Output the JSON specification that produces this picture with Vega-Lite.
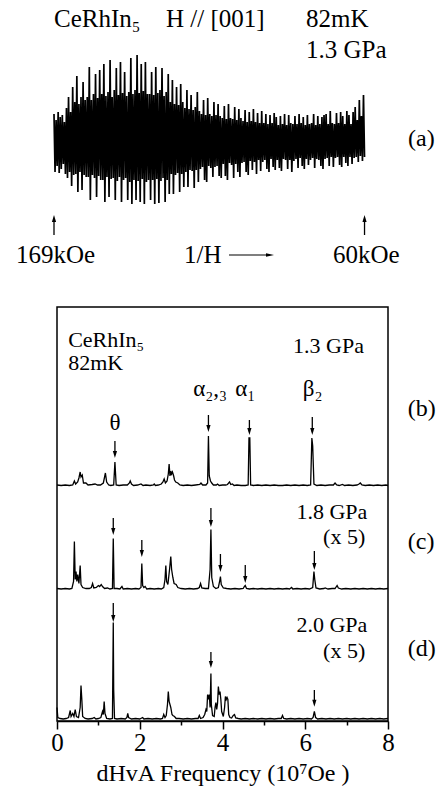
{
 "$schema": "https://vega.github.io/schema/vega-lite/v6.json",
 "padding": {"left": 15, "top": 0, "right": 0, "bottom": 0},
 "spacing": 0,
 "bounds": "flush",
 "background": "white",
 "config": {"view": {"stroke": null}, "font": "Liberation Serif", "text": {"font": "Liberation Serif", "color": "black"}},
 "vconcat": [
  {
   "width": 331, "height": 307,
   "view": {"stroke": null},
   "encoding": {
    "x": {"field": "t", "type": "quantitative", "scale": {"domain": [2.89, 321.6], "nice": false, "zero": false}, "axis": null},
    "y": {"field": "m", "type": "quantitative", "scale": {"domain": [-165, 142], "nice": false, "zero": false}, "axis": null}
   },
   "layer": [
    {"data": {"values": [
{"t":0,"m":28},{"t":1,"m":-30},{"t":2,"m":22},{"t":3,"m":-24},{"t":4,"m":30},{"t":5,"m":-31},{"t":6,"m":25},{"t":7,"m":-27},{"t":8,"m":27},{"t":9,"m":-22},
{"t":10,"m":20},{"t":11,"m":-32},{"t":12,"m":34},{"t":13,"m":-36},{"t":14,"m":45},{"t":15,"m":-30},{"t":16,"m":30},{"t":17,"m":-44},{"t":18,"m":55},{"t":19,"m":-33},
{"t":20,"m":40},{"t":21,"m":-32},{"t":22,"m":66},{"t":23,"m":-50},{"t":24,"m":38},{"t":25,"m":-30},{"t":26,"m":45},{"t":27,"m":-48},{"t":28,"m":60},{"t":29,"m":-33},
{"t":30,"m":42},{"t":31,"m":-35},{"t":32,"m":45},{"t":33,"m":-35},{"t":34,"m":75},{"t":35,"m":-58},{"t":36,"m":42},{"t":37,"m":-33},{"t":38,"m":48},{"t":39,"m":-36},
{"t":40,"m":68},{"t":41,"m":-55},{"t":42,"m":44},{"t":43,"m":-34},{"t":44,"m":72},{"t":45,"m":-38},{"t":46,"m":48},{"t":47,"m":-38},{"t":48,"m":78},{"t":49,"m":-60},
{"t":50,"m":46},{"t":51,"m":-35},{"t":52,"m":50},{"t":53,"m":-55},{"t":54,"m":82},{"t":55,"m":-37},{"t":56,"m":45},{"t":57,"m":-36},{"t":58,"m":52},{"t":59,"m":-58},
{"t":60,"m":74},{"t":61,"m":-39},{"t":62,"m":47},{"t":63,"m":-35},{"t":64,"m":80},{"t":65,"m":-60},{"t":66,"m":49},{"t":67,"m":-38},{"t":68,"m":70},{"t":69,"m":-36},
{"t":70,"m":46},{"t":71,"m":-58},{"t":72,"m":50},{"t":73,"m":-40},{"t":74,"m":84},{"t":75,"m":-62},{"t":76,"m":48},{"t":77,"m":-38},{"t":78,"m":52},{"t":79,"m":-58},
{"t":80,"m":87},{"t":81,"m":-39},{"t":82,"m":49},{"t":83,"m":-60},{"t":84,"m":78},{"t":85,"m":-37},{"t":86,"m":51},{"t":87,"m":-62},{"t":88,"m":80},{"t":89,"m":-40},
{"t":90,"m":48},{"t":91,"m":-38},{"t":92,"m":48},{"t":93,"m":-58},{"t":94,"m":70},{"t":95,"m":-38},{"t":96,"m":47},{"t":97,"m":-62},{"t":98,"m":75},{"t":99,"m":-37},
{"t":100,"m":49},{"t":101,"m":-61},{"t":102,"m":52},{"t":103,"m":-39},{"t":104,"m":74},{"t":105,"m":-36},{"t":106,"m":46},{"t":107,"m":-60},{"t":108,"m":50},{"t":109,"m":-38},
{"t":110,"m":68},{"t":111,"m":-52},{"t":112,"m":40},{"t":113,"m":-32},{"t":114,"m":62},{"t":115,"m":-52},{"t":116,"m":38},{"t":117,"m":-33},{"t":118,"m":55},{"t":119,"m":-31},
{"t":120,"m":37},{"t":121,"m":-50},{"t":122,"m":58},{"t":123,"m":-32},{"t":124,"m":40},{"t":125,"m":-45},{"t":126,"m":34},{"t":127,"m":-30},{"t":128,"m":52},{"t":129,"m":-45},
{"t":130,"m":33},{"t":131,"m":-28},{"t":132,"m":47},{"t":133,"m":-29},{"t":134,"m":32},{"t":135,"m":-46},{"t":136,"m":35},{"t":137,"m":-28},{"t":138,"m":50},{"t":139,"m":-40},
{"t":140,"m":31},{"t":141,"m":-27},{"t":142,"m":28},{"t":143,"m":-25},{"t":144,"m":42},{"t":145,"m":-38},{"t":146,"m":27},{"t":147,"m":-40},{"t":148,"m":44},{"t":149,"m":-24},
{"t":150,"m":28},{"t":151,"m":-26},{"t":152,"m":26},{"t":153,"m":-35},{"t":154,"m":40},{"t":155,"m":-25},{"t":156,"m":27},{"t":157,"m":-24},{"t":158,"m":38},{"t":159,"m":-34},
{"t":160,"m":26},{"t":161,"m":-36},{"t":162,"m":24},{"t":163,"m":-22},{"t":164,"m":36},{"t":165,"m":-34},{"t":166,"m":23},{"t":167,"m":-38},{"t":168,"m":38},{"t":169,"m":-21},
{"t":170,"m":24},{"t":171,"m":-23},{"t":172,"m":23},{"t":173,"m":-36},{"t":174,"m":35},{"t":175,"m":-22},{"t":176,"m":22},{"t":177,"m":-30},{"t":178,"m":33},{"t":179,"m":-35},
{"t":180,"m":24},{"t":181,"m":-21},{"t":182,"m":21},{"t":183,"m":-20},{"t":184,"m":32},{"t":185,"m":-30},{"t":186,"m":20},{"t":187,"m":-33},{"t":188,"m":30},{"t":189,"m":-19},
{"t":190,"m":21},{"t":191,"m":-28},{"t":192,"m":33},{"t":193,"m":-20},{"t":194,"m":20},{"t":195,"m":-32},{"t":196,"m":29},{"t":197,"m":-18},{"t":198,"m":19},{"t":199,"m":-29},
{"t":200,"m":31},{"t":201,"m":-20},{"t":202,"m":19},{"t":203,"m":-18},{"t":204,"m":28},{"t":205,"m":-27},{"t":206,"m":18},{"t":207,"m":-30},{"t":208,"m":27},{"t":209,"m":-17},
{"t":210,"m":19},{"t":211,"m":-25},{"t":212,"m":29},{"t":213,"m":-28},{"t":214,"m":25},{"t":215,"m":-18},{"t":216,"m":17},{"t":217,"m":-26},{"t":218,"m":26},{"t":219,"m":-29},
{"t":220,"m":18},{"t":221,"m":-17},{"t":222,"m":28},{"t":223,"m":-18},{"t":224,"m":17},{"t":225,"m":-27},{"t":226,"m":27},{"t":227,"m":-18},{"t":228,"m":19},{"t":229,"m":-30},
{"t":230,"m":18},{"t":231,"m":-19},{"t":232,"m":26},{"t":233,"m":-17},{"t":234,"m":18},{"t":235,"m":-26},{"t":236,"m":28},{"t":237,"m":-16},{"t":238,"m":19},{"t":239,"m":-24},
{"t":240,"m":25},{"t":241,"m":-27},{"t":242,"m":17},{"t":243,"m":-17},{"t":244,"m":27},{"t":245,"m":-23},{"t":246,"m":18},{"t":247,"m":-18},{"t":248,"m":19},{"t":249,"m":-16},
{"t":250,"m":28},{"t":251,"m":-26},{"t":252,"m":17},{"t":253,"m":-17},{"t":254,"m":26},{"t":255,"m":-18},{"t":256,"m":18},{"t":257,"m":-24},{"t":258,"m":25},{"t":259,"m":-27},
{"t":260,"m":27},{"t":261,"m":-17},{"t":262,"m":28},{"t":263,"m":-16},{"t":264,"m":18},{"t":265,"m":-24},{"t":266,"m":31},{"t":267,"m":-15},{"t":268,"m":19},{"t":269,"m":-25},
{"t":270,"m":18},{"t":271,"m":-16},{"t":272,"m":29},{"t":273,"m":-15},{"t":274,"m":19},{"t":275,"m":-23},{"t":276,"m":30},{"t":277,"m":-25},{"t":278,"m":26},{"t":279,"m":-15},
{"t":280,"m":18},{"t":281,"m":-21},{"t":282,"m":31},{"t":283,"m":-24},{"t":284,"m":27},{"t":285,"m":-15},{"t":286,"m":18},{"t":287,"m":-22},{"t":288,"m":30},{"t":289,"m":-16},
{"t":290,"m":35},{"t":291,"m":-15},{"t":292,"m":22},{"t":293,"m":-20},{"t":294,"m":42},{"t":295,"m":-14},{"t":296,"m":26},{"t":297,"m":-19},{"t":298,"m":47},{"t":299,"m":-15}
    ]},
     "mark": {"type": "line", "color": "black", "strokeWidth": 1.7}},
    {"data": {"values": [
      {"t": 107.8, "m": 115, "label": "H // [001]"},
      {"t": 242.7, "m": 115, "label": "82mK"},
      {"t": 242.7, "m": 84, "label": "1.3 GPa"},
      {"t": -36.6, "m": -121, "label": "169kOe"},
      {"t": 125.2, "m": -121, "label": "1/H"},
      {"t": 268.7, "m": -121, "label": "60kOe"}
     ]},
     "mark": {"type": "text", "align": "left", "baseline": "alphabetic", "fontSize": 25, "font": "Liberation Serif", "color": "black"},
     "encoding": {"text": {"field": "label"}}},
    {"data": {"values": [{"t": 0, "m": 115, "label": "CeRhIn₅"}]},
     "mark": {"type": "text", "align": "left", "baseline": "alphabetic", "fontSize": 25, "font": "Liberation Serif", "color": "black"},
     "encoding": {"text": {"field": "label"}}},
    {"data": {"values": [{"t": 340.9, "m": -4, "label": "(a)"}]},
     "mark": {"type": "text", "align": "left", "baseline": "alphabetic", "fontSize": 24, "font": "Liberation Serif", "color": "black"},
     "encoding": {"text": {"field": "label"}}},
    {"data": {"values": [{"t": 0, "m": -79, "m2": -93}, {"t": 299, "m": -79, "m2": -93}]},
     "mark": {"type": "rule", "color": "black", "strokeWidth": 1.3},
     "encoding": {"y2": {"field": "m2"}}},
    {"data": {"values": [{"t": 0, "m": -76.5}, {"t": 299, "m": -76.5}]},
     "mark": {"type": "point", "shape": "M-0.6,1L0.6,1L0,-1Z", "filled": true, "color": "black", "size": 49, "opacity": 1}},
    {"data": {"values": [{"t": 168.5, "t2": 207, "m": -113}]},
     "mark": {"type": "rule", "color": "black", "strokeWidth": 1.2},
     "encoding": {"x2": {"field": "t2"}}},
    {"data": {"values": [{"t": 208, "m": -113}]},
     "mark": {"type": "point", "shape": "M-1,-0.45L1,0L-1,0.45Z", "filled": true, "color": "black", "size": 64, "opacity": 1}}
   ]
  },
  {
   "width": 331, "height": 414,
   "view": {"stroke": "black", "strokeWidth": 1.5},
   "resolve": {"scale": {"y": "independent"}},
   "layer": [
    {
     "encoding": {
      "x": {"field": "f", "type": "quantitative", "scale": {"domain": [0, 8], "nice": false, "zero": false},
            "axis": {"values": [0,1,2,3,4,5,6,7,8], "labelExpr": "datum.value % 2 == 0 ? datum.label : ''", "tickSize": {"condition": {"test": "datum.value % 2 == 1", "value": 4}, "value": 8}, "tickColor": "black", "tickWidth": 1.5, "domainColor": "black", "domainWidth": 1.5, "grid": false, "labelFont": "Liberation Serif", "labelFontSize": 25, "labelColor": "black", "labelPadding": 1, "labelFlush": false, "labelOverlap": false, "labelBound": false, "title": "dHvA Frequency (10⁷Oe )", "titleFont": "Liberation Serif", "titleFontSize": 24, "titleFontWeight": "normal", "titleColor": "black", "titlePadding": 6}},
      "y": {"field": "a", "type": "quantitative", "scale": {"domain": [-235, 179], "nice": false, "zero": false}, "axis": null}
     },
     "layer": [
      {"data": {"values": [
{"f":0.00,"a":1},{"f":0.10,"a":0.5},{"f":0.20,"a":1},{"f":0.30,"a":0.5},{"f":0.38,"a":1},{"f":0.42,"a":5},{"f":0.45,"a":2},{"f":0.50,"a":4},{"f":0.53,"a":8},{"f":0.56,"a":14},
{"f":0.58,"a":9},{"f":0.61,"a":11},{"f":0.64,"a":3},{"f":0.70,"a":3},{"f":0.75,"a":1},{"f":0.85,"a":1.5},{"f":0.92,"a":2},{"f":0.98,"a":1},{"f":1.05,"a":1},{"f":1.12,"a":3},
{"f":1.17,"a":13},{"f":1.20,"a":4},{"f":1.25,"a":1},{"f":1.30,"a":0.5},{"f":1.37,"a":1},{"f":1.40,"a":24},{"f":1.43,"a":1},{"f":1.50,"a":0.5},{"f":1.60,"a":1},{"f":1.70,"a":1},
{"f":1.75,"a":3},{"f":1.77,"a":5},{"f":1.80,"a":2},{"f":1.85,"a":0.5},{"f":1.95,"a":1},{"f":2.03,"a":2},{"f":2.08,"a":0.5},{"f":2.15,"a":1},{"f":2.25,"a":0.5},{"f":2.33,"a":1},
{"f":2.35,"a":2},{"f":2.38,"a":0.5},{"f":2.45,"a":1},{"f":2.52,"a":2},{"f":2.56,"a":4},{"f":2.59,"a":7},{"f":2.62,"a":3},{"f":2.66,"a":5},{"f":2.69,"a":12},{"f":2.71,"a":22},
{"f":2.73,"a":10},{"f":2.75,"a":15},{"f":2.77,"a":12},{"f":2.79,"a":14},{"f":2.82,"a":10},{"f":2.84,"a":6},{"f":2.87,"a":4},{"f":2.92,"a":3},{"f":2.97,"a":1},{"f":3.05,"a":0.5},
{"f":3.15,"a":1},{"f":3.25,"a":0.5},{"f":3.35,"a":1},{"f":3.45,"a":1.5},{"f":3.48,"a":3},{"f":3.52,"a":1},{"f":3.60,"a":1},{"f":3.64,"a":3},{"f":3.66,"a":50},{"f":3.68,"a":10},
{"f":3.71,"a":5},{"f":3.74,"a":3},{"f":3.78,"a":1},{"f":3.85,"a":1},{"f":3.88,"a":2},{"f":3.92,"a":0.5},{"f":4.00,"a":1},{"f":4.08,"a":1},{"f":4.12,"a":1.5},{"f":4.17,"a":4},
{"f":4.20,"a":1.5},{"f":4.24,"a":2},{"f":4.28,"a":0.5},{"f":4.35,"a":1},{"f":4.45,"a":0.5},{"f":4.55,"a":0.5},{"f":4.62,"a":1},{"f":4.64,"a":48},{"f":4.66,"a":48},{"f":4.68,"a":1},
{"f":4.75,"a":0.5},{"f":4.85,"a":1},{"f":4.95,"a":0.5},{"f":5.05,"a":1},{"f":5.15,"a":0.5},{"f":5.25,"a":1},{"f":5.35,"a":0.5},{"f":5.45,"a":0.5},{"f":5.55,"a":1},{"f":5.65,"a":0.5},
{"f":5.75,"a":1},{"f":5.85,"a":0.5},{"f":5.95,"a":1},{"f":6.05,"a":0.5},{"f":6.13,"a":1},{"f":6.16,"a":48},{"f":6.18,"a":40},{"f":6.21,"a":2},{"f":6.28,"a":0.5},{"f":6.38,"a":1},
{"f":6.48,"a":0.5},{"f":6.58,"a":1},{"f":6.68,"a":1},{"f":6.72,"a":3},{"f":6.76,"a":1},{"f":6.82,"a":0.5},{"f":6.90,"a":1.5},{"f":6.95,"a":0.5},{"f":7.05,"a":1},{"f":7.15,"a":0.5},
{"f":7.25,"a":1},{"f":7.30,"a":2},{"f":7.33,"a":3},{"f":7.37,"a":1},{"f":7.45,"a":0.5},{"f":7.55,"a":1},{"f":7.65,"a":0.5},{"f":7.75,"a":1},{"f":7.85,"a":0.5},{"f":7.95,"a":1},{"f":8.00,"a":0.5}
       ]},
       "mark": {"type": "line", "color": "black", "strokeWidth": 1.3}},
      {"data": {"values": [{"f": 1.40, "a": 31.5, "a2": 45}, {"f": 3.66, "a": 57.5, "a2": 71}, {"f": 4.65, "a": 54.5, "a2": 66}, {"f": 6.17, "a": 54.5, "a2": 69}]},
       "layer": [
        {"mark": {"type": "rule", "color": "black", "strokeWidth": 1.3}, "encoding": {"y2": {"field": "a2"}}},
        {"mark": {"type": "point", "shape": "M-0.6,-1L0.6,-1L0,1Z", "filled": true, "color": "black", "size": 49, "opacity": 1}}
       ]},
      {"data": {"values": [{"f": 0.27, "a": 139, "label": "CeRhIn₅"}, {"f": 0.27, "a": 116, "label": "82mK"}]},
       "mark": {"type": "text", "align": "left", "baseline": "alphabetic", "fontSize": 22, "font": "Liberation Serif", "color": "black"},
       "encoding": {"text": {"field": "label"}}},
      {"data": {"values": [{"f": 8.48, "a": 70, "label": "(b)"}]},
       "mark": {"type": "text", "align": "left", "baseline": "alphabetic", "fontSize": 24, "font": "Liberation Serif", "color": "black"},
       "encoding": {"text": {"field": "label"}}},
      {"data": {"values": [{"f": 7.42, "a": 133, "label": "1.3 GPa"}]},
       "mark": {"type": "text", "align": "right", "baseline": "alphabetic", "fontSize": 22, "font": "Liberation Serif", "color": "black"},
       "encoding": {"text": {"field": "label"}}},
      {"data": {"values": [{"f": 3.70, "a": 90, "label": "α₂,₃"}, {"f": 4.55, "a": 90, "label": "α₁"}, {"f": 6.18, "a": 90, "label": "β₂"}, {"f": 1.40, "a": 56, "label": "θ"}]},
       "mark": {"type": "text", "align": "center", "baseline": "alphabetic", "fontSize": 23, "font": "Liberation Serif", "color": "black"},
       "encoding": {"text": {"field": "label"}}}
     ]
    },
    {
     "encoding": {
      "x": {"field": "f", "type": "quantitative", "scale": {"domain": [0, 8], "nice": false, "zero": false},
            "axis": {"values": [0,1,2,3,4,5,6,7,8], "labelExpr": "datum.value % 2 == 0 ? datum.label : ''", "tickSize": {"condition": {"test": "datum.value % 2 == 1", "value": 4}, "value": 8}, "tickColor": "black", "tickWidth": 1.5, "domainColor": "black", "domainWidth": 1.5, "grid": false, "labelFont": "Liberation Serif", "labelFontSize": 25, "labelColor": "black", "labelPadding": 1, "labelFlush": false, "labelOverlap": false, "labelBound": false, "title": "dHvA Frequency (10⁷Oe )", "titleFont": "Liberation Serif", "titleFontSize": 24, "titleFontWeight": "normal", "titleColor": "black", "titlePadding": 6}},
      "y": {"field": "a", "type": "quantitative", "scale": {"domain": [-131.5, 282.5], "nice": false, "zero": false}, "axis": null}
     },
     "layer": [
      {"data": {"values": [
{"f":0.00,"a":1},{"f":0.10,"a":0.5},{"f":0.20,"a":1},{"f":0.30,"a":0.5},{"f":0.36,"a":1},{"f":0.40,"a":8},{"f":0.42,"a":48},{"f":0.44,"a":10},{"f":0.46,"a":18},{"f":0.48,"a":8},
{"f":0.50,"a":15},{"f":0.53,"a":6},{"f":0.56,"a":24},{"f":0.58,"a":5},{"f":0.62,"a":2},{"f":0.70,"a":1},{"f":0.78,"a":1},{"f":0.83,"a":2},{"f":0.86,"a":6},{"f":0.89,"a":1.5},
{"f":0.95,"a":2},{"f":1.00,"a":4},{"f":1.03,"a":3},{"f":1.07,"a":5},{"f":1.10,"a":3},{"f":1.15,"a":1},{"f":1.22,"a":1.5},{"f":1.28,"a":0.5},{"f":1.34,"a":1},{"f":1.36,"a":51},
{"f":1.38,"a":1},{"f":1.45,"a":1},{"f":1.52,"a":0.5},{"f":1.57,"a":3},{"f":1.60,"a":0.5},{"f":1.70,"a":1},{"f":1.80,"a":0.5},{"f":1.90,"a":1},{"f":1.98,"a":0.5},{"f":2.03,"a":2},
{"f":2.05,"a":26},{"f":2.07,"a":4},{"f":2.10,"a":2},{"f":2.13,"a":3},{"f":2.17,"a":0.5},{"f":2.25,"a":1},{"f":2.35,"a":0.5},{"f":2.45,"a":1},{"f":2.52,"a":0.5},{"f":2.58,"a":2},
{"f":2.61,"a":10},{"f":2.63,"a":24},{"f":2.65,"a":8},{"f":2.68,"a":5},{"f":2.72,"a":20},{"f":2.75,"a":33},{"f":2.77,"a":20},{"f":2.80,"a":12},{"f":2.83,"a":6},{"f":2.88,"a":5},
{"f":2.92,"a":2},{"f":3.00,"a":1},{"f":3.10,"a":0.5},{"f":3.20,"a":1},{"f":3.30,"a":0.5},{"f":3.40,"a":1},{"f":3.44,"a":2},{"f":3.47,"a":6},{"f":3.50,"a":1.5},{"f":3.58,"a":1},
{"f":3.66,"a":1},{"f":3.70,"a":20},{"f":3.72,"a":60},{"f":3.74,"a":12},{"f":3.78,"a":3},{"f":3.84,"a":1},{"f":3.90,"a":2},{"f":3.93,"a":8},{"f":3.95,"a":13},{"f":3.97,"a":5},
{"f":4.02,"a":1.5},{"f":4.10,"a":1},{"f":4.20,"a":0.5},{"f":4.30,"a":1},{"f":4.40,"a":0.5},{"f":4.50,"a":1},{"f":4.53,"a":3},{"f":4.55,"a":4},{"f":4.58,"a":1},{"f":4.65,"a":0.5},
{"f":4.75,"a":1},{"f":4.85,"a":0.5},{"f":4.95,"a":1},{"f":5.05,"a":0.5},{"f":5.15,"a":1},{"f":5.25,"a":0.5},{"f":5.35,"a":1},{"f":5.45,"a":0.5},{"f":5.55,"a":1},{"f":5.62,"a":0.5},
{"f":5.67,"a":2},{"f":5.70,"a":0.5},{"f":5.80,"a":1},{"f":5.90,"a":0.5},{"f":6.00,"a":1},{"f":6.10,"a":0.5},{"f":6.18,"a":2},{"f":6.21,"a":18},{"f":6.23,"a":10},{"f":6.26,"a":1.5},
{"f":6.35,"a":0.5},{"f":6.45,"a":1},{"f":6.48,"a":1.5},{"f":6.55,"a":0.5},{"f":6.65,"a":1},{"f":6.72,"a":1},{"f":6.77,"a":4},{"f":6.80,"a":1.5},{"f":6.88,"a":0.5},{"f":6.98,"a":1},
{"f":7.10,"a":0.5},{"f":7.20,"a":1},{"f":7.30,"a":0.5},{"f":7.40,"a":1},{"f":7.50,"a":0.5},{"f":7.60,"a":1},{"f":7.70,"a":0.5},{"f":7.80,"a":1},{"f":7.90,"a":0.5},{"f":8.00,"a":1}
       ]},
       "mark": {"type": "line", "color": "black", "strokeWidth": 1.3}},
      {"data": {"values": [{"f": 1.36, "a": 58, "a2": 71.5}, {"f": 2.05, "a": 36, "a2": 49.5}, {"f": 3.72, "a": 66, "a2": 81.5}, {"f": 3.95, "a": 21, "a2": 35.5}, {"f": 4.55, "a": 10, "a2": 24.5}, {"f": 6.22, "a": 23, "a2": 38.5}]},
       "layer": [
        {"mark": {"type": "rule", "color": "black", "strokeWidth": 1.3}, "encoding": {"y2": {"field": "a2"}}},
        {"mark": {"type": "point", "shape": "M-0.6,-1L0.6,-1L0,1Z", "filled": true, "color": "black", "size": 49, "opacity": 1}}
       ]},
      {"data": {"values": [{"f": 8.48, "a": 40.5, "label": "(c)"}]},
       "mark": {"type": "text", "align": "left", "baseline": "alphabetic", "fontSize": 24, "font": "Liberation Serif", "color": "black"},
       "encoding": {"text": {"field": "label"}}},
      {"data": {"values": [{"f": 7.5, "a": 70.5, "label": "1.8 GPa"}, {"f": 7.45, "a": 45.5, "label": "(x 5)"}]},
       "mark": {"type": "text", "align": "right", "baseline": "alphabetic", "fontSize": 22, "font": "Liberation Serif", "color": "black"},
       "encoding": {"text": {"field": "label"}}}
     ]
    },
    {
     "encoding": {
      "x": {"field": "f", "type": "quantitative", "scale": {"domain": [0, 8], "nice": false, "zero": false},
            "axis": {"values": [0,1,2,3,4,5,6,7,8], "labelExpr": "datum.value % 2 == 0 ? datum.label : ''", "tickSize": {"condition": {"test": "datum.value % 2 == 1", "value": 4}, "value": 8}, "tickColor": "black", "tickWidth": 1.5, "domainColor": "black", "domainWidth": 1.5, "grid": false, "labelFont": "Liberation Serif", "labelFontSize": 25, "labelColor": "black", "labelPadding": 1, "labelFlush": false, "labelOverlap": false, "labelBound": false, "title": "dHvA Frequency (10⁷Oe )", "titleFont": "Liberation Serif", "titleFontSize": 24, "titleFontWeight": "normal", "titleColor": "black", "titlePadding": 6}},
      "y": {"field": "a", "type": "quantitative", "scale": {"domain": [-1.5, 412.5], "nice": false, "zero": false}, "axis": null}
     },
     "layer": [
      {"data": {"values": [
{"f":0.00,"a":12},{"f":0.02,"a":2},{"f":0.08,"a":1},{"f":0.15,"a":0.5},{"f":0.22,"a":1},{"f":0.28,"a":2},{"f":0.32,"a":9},{"f":0.34,"a":3},{"f":0.38,"a":6},{"f":0.41,"a":3},
{"f":0.44,"a":10},{"f":0.47,"a":3},{"f":0.52,"a":2},{"f":0.56,"a":12},{"f":0.58,"a":34},{"f":0.60,"a":20},{"f":0.62,"a":3},{"f":0.68,"a":1},{"f":0.75,"a":0.5},{"f":0.85,"a":1},
{"f":0.90,"a":2},{"f":0.94,"a":0.5},{"f":1.00,"a":1},{"f":1.06,"a":2},{"f":1.10,"a":8},{"f":1.12,"a":5},{"f":1.14,"a":18},{"f":1.16,"a":6},{"f":1.20,"a":1},{"f":1.28,"a":0.5},
{"f":1.34,"a":1},{"f":1.36,"a":97},{"f":1.37,"a":30},{"f":1.39,"a":1},{"f":1.45,"a":0.5},{"f":1.55,"a":1},{"f":1.65,"a":0.5},{"f":1.69,"a":2},{"f":1.71,"a":6},{"f":1.73,"a":2},
{"f":1.80,"a":0.5},{"f":1.90,"a":1},{"f":2.00,"a":0.5},{"f":2.07,"a":2},{"f":2.10,"a":0.5},{"f":2.20,"a":1},{"f":2.30,"a":0.5},{"f":2.40,"a":1},{"f":2.50,"a":0.5},{"f":2.55,"a":1},
{"f":2.58,"a":5},{"f":2.61,"a":2},{"f":2.64,"a":4},{"f":2.67,"a":15},{"f":2.69,"a":28},{"f":2.71,"a":18},{"f":2.75,"a":12},{"f":2.78,"a":5},{"f":2.80,"a":4},{"f":2.84,"a":3},
{"f":2.88,"a":1},{"f":2.95,"a":1},{"f":3.05,"a":0.5},{"f":3.15,"a":1},{"f":3.25,"a":0.5},{"f":3.35,"a":1},{"f":3.41,"a":1},{"f":3.44,"a":4},{"f":3.47,"a":1},{"f":3.53,"a":2},
{"f":3.57,"a":5},{"f":3.60,"a":10},{"f":3.62,"a":8},{"f":3.64,"a":25},{"f":3.66,"a":20},{"f":3.68,"a":25},{"f":3.70,"a":12},{"f":3.72,"a":46},{"f":3.73,"a":15},{"f":3.76,"a":4},
{"f":3.80,"a":3},{"f":3.82,"a":12},{"f":3.84,"a":17},{"f":3.86,"a":10},{"f":3.88,"a":16},{"f":3.90,"a":33},{"f":3.92,"a":25},{"f":3.94,"a":28},{"f":3.96,"a":20},{"f":3.98,"a":8},
{"f":4.02,"a":3},{"f":4.05,"a":12},{"f":4.07,"a":23},{"f":4.09,"a":20},{"f":4.11,"a":22},{"f":4.13,"a":20},{"f":4.15,"a":5},{"f":4.18,"a":2},{"f":4.22,"a":1.5},{"f":4.26,"a":4},
{"f":4.29,"a":5},{"f":4.32,"a":1.5},{"f":4.38,"a":1},{"f":4.45,"a":0.5},{"f":4.55,"a":1},{"f":4.65,"a":0.5},{"f":4.75,"a":1},{"f":4.85,"a":0.5},{"f":4.95,"a":1},{"f":5.05,"a":0.5},
{"f":5.15,"a":1},{"f":5.25,"a":0.5},{"f":5.35,"a":1},{"f":5.42,"a":1},{"f":5.45,"a":4},{"f":5.48,"a":1},{"f":5.55,"a":0.5},{"f":5.65,"a":1},{"f":5.75,"a":0.5},{"f":5.85,"a":1},
{"f":5.95,"a":0.5},{"f":6.05,"a":1},{"f":6.15,"a":0.5},{"f":6.19,"a":2},{"f":6.22,"a":8},{"f":6.25,"a":2},{"f":6.30,"a":0.5},{"f":6.40,"a":1},{"f":6.50,"a":0.5},{"f":6.60,"a":1},
{"f":6.70,"a":0.5},{"f":6.80,"a":1},{"f":6.90,"a":0.5},{"f":7.00,"a":1},{"f":7.10,"a":0.5},{"f":7.20,"a":1},{"f":7.30,"a":0.5},{"f":7.40,"a":1},{"f":7.50,"a":0.5},{"f":7.60,"a":1},
{"f":7.70,"a":0.5},{"f":7.80,"a":1},{"f":7.90,"a":0.5},{"f":8.00,"a":1}
       ]},
       "mark": {"type": "line", "color": "black", "strokeWidth": 1.3}},
      {"data": {"values": [{"f": 1.36, "a": 101, "a2": 116.5}, {"f": 3.72, "a": 55, "a2": 67.5}, {"f": 6.22, "a": 16.3, "a2": 29.5}]},
       "layer": [
        {"mark": {"type": "rule", "color": "black", "strokeWidth": 1.3}, "encoding": {"y2": {"field": "a2"}}},
        {"mark": {"type": "point", "shape": "M-0.6,-1L0.6,-1L0,1Z", "filled": true, "color": "black", "size": 49, "opacity": 1}}
       ]},
      {"data": {"values": [{"f": 8.48, "a": 63.5, "label": "(d)"}]},
       "mark": {"type": "text", "align": "left", "baseline": "alphabetic", "fontSize": 24, "font": "Liberation Serif", "color": "black"},
       "encoding": {"text": {"field": "label"}}},
      {"data": {"values": [{"f": 7.5, "a": 87.5, "label": "2.0 GPa"}, {"f": 7.45, "a": 61.5, "label": "(x 5)"}]},
       "mark": {"type": "text", "align": "right", "baseline": "alphabetic", "fontSize": 22, "font": "Liberation Serif", "color": "black"},
       "encoding": {"text": {"field": "label"}}}
     ]
    }
   ]
  }
 ]
}
